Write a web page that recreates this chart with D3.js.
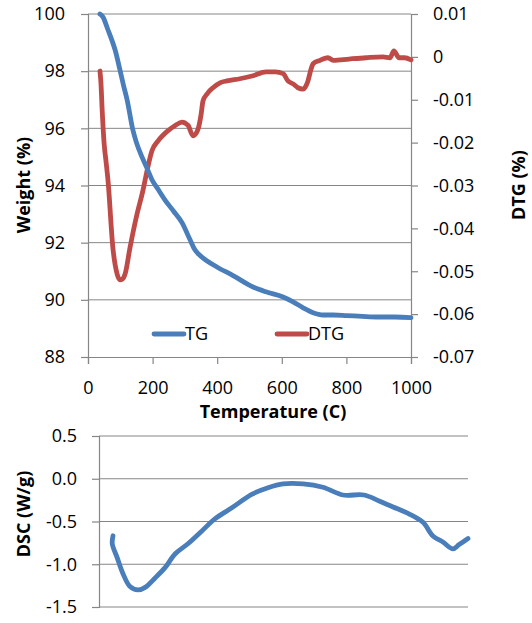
<!DOCTYPE html>
<html>
<head>
<meta charset="utf-8">
<script src="https://cdn.jsdelivr.net/npm/d3@7"></script>
<style>
  body { margin: 0; background: #fff; }
  svg text { font-family: "Open Sans", "Liberation Sans", sans-serif; fill: #000; }
</style>
</head>
<body>
<div id="chart"></div>
<script>
// TG curve (weight %)
const tgTemp = [37, 46, 62, 75, 84, 99, 110, 121, 139, 150, 167, 183, 198, 218, 238, 265, 291, 316, 331, 347, 370, 399, 449, 511, 551, 604, 635, 666, 697, 727, 760, 800, 850, 900, 950, 1000];
const tgWeight = [100, 99.9, 99.44, 99.05, 98.74, 98.04, 97.5, 97.0, 95.94, 95.5, 95.0, 94.6, 94.2, 93.85, 93.5, 93.1, 92.7, 92.1, 91.75, 91.55, 91.35, 91.15, 90.85, 90.45, 90.28, 90.1, 89.93, 89.72, 89.55, 89.47, 89.47, 89.45, 89.42, 89.4, 89.4, 89.38];

// DTG curve (%)
const dtgTemp = [37, 40, 44, 50, 56, 62, 77, 90, 99, 107, 115, 130, 152, 170, 183, 198, 217, 248, 270, 291, 310, 325, 340, 350, 356, 370, 387, 410, 430, 470, 511, 551, 580, 604, 619, 635, 650, 666, 681, 690, 697, 715, 743, 759, 808, 861, 913, 935, 947, 963, 980, 1000];
const dtgValue = [-0.0033, -0.006, -0.0126, -0.0203, -0.0245, -0.0289, -0.0445, -0.0506, -0.052, -0.0518, -0.0506, -0.0445, -0.0366, -0.0312, -0.0265, -0.0219, -0.0196, -0.0172, -0.016, -0.0152, -0.016, -0.0184, -0.017, -0.0135, -0.0103, -0.0085, -0.0072, -0.006, -0.0056, -0.0051, -0.0044, -0.0035, -0.0035, -0.0039, -0.0056, -0.0063, -0.0072, -0.0075, -0.0056, -0.003, -0.0016, -0.0009, -0.0002, -0.0008, -0.0005, -0.0002, 0, -0.0002, 0.0014, -0.0002, -0.0002, -0.0007];

// DSC curve (W/g)
const dscTemp = [38, 36, 49, 65, 84, 106, 125, 152, 179, 206, 241, 279, 314, 360, 415, 458, 499, 553, 607, 661, 718, 759, 797, 840, 878, 905, 932, 959, 976, 1000];
const dscValue = [-0.667, -0.76, -0.92, -1.11, -1.26, -1.30, -1.27, -1.16, -1.04, -0.88, -0.76, -0.61, -0.47, -0.34, -0.18, -0.105, -0.06, -0.06, -0.1, -0.19, -0.19, -0.26, -0.33, -0.41, -0.51, -0.67, -0.74, -0.82, -0.77, -0.7];

const tempTicks = [0, 200, 400, 600, 800, 1000];
const weightTicks = [88, 90, 92, 94, 96, 98, 100];
const dtgTicks = [-0.07, -0.06, -0.05, -0.04, -0.03, -0.02, -0.01, 0, 0.01];
const dscTicks = [-1.5, -1.0, -0.5, 0.0, 0.5];

const blue = "#4a7ebb";
const red = "#be4b48";
const grid = "#868686";

const width = 532, height = 623;

const svg = d3.select("#chart").append("svg")
  .attr("width", width)
  .attr("height", height);

// ---- top chart: TG / DTG ----
const x = d3.scaleLinear().domain([0, 1000]).range([88, 411]);
const yW = d3.scaleLinear().domain([88, 100]).range([357, 14]);
const yD = d3.scaleLinear().domain([-0.07, 0.01]).range([357, 14]);

const topG = svg.append("g");

topG.append("g")
  .selectAll("line")
  .data(weightTicks.slice(1))
  .enter().append("line")
  .attr("x1", 88).attr("x2", 411)
  .attr("y1", d => yW(d)).attr("y2", d => yW(d))
  .attr("stroke", grid).attr("stroke-width", 1);

const dtgFmt = d => Math.abs(d) < 1e-9 ? "0" : d3.format(".2f")(d);

const axL = topG.append("g").attr("transform", "translate(88,0)")
  .call(d3.axisLeft(yW).tickValues(weightTicks).tickSize(7));
const axR = topG.append("g").attr("transform", "translate(411,0)")
  .call(d3.axisRight(yD).tickValues(dtgTicks).tickSize(7).tickFormat(dtgFmt));
const axB = topG.append("g").attr("transform", "translate(0,357)")
  .call(d3.axisBottom(x).tickValues(tempTicks).tickSize(7).tickFormat(d3.format("d")));

[axL, axR, axB].forEach(a => {
  a.select(".domain").attr("stroke", grid).attr("stroke-width", 1.2);
  a.selectAll(".tick line").attr("stroke", grid).attr("stroke-width", 1.2);
  a.selectAll(".tick text").attr("font-size", 18).attr("fill", "#000")
    .style("font-family", "'Open Sans', sans-serif");
});
axR.selectAll(".tick text").attr("x", 22);
axL.selectAll(".tick text").attr("x", -23);
axB.selectAll(".tick text").attr("y", 24);

const lineTG = d3.line()
  .x((d, i) => x(tgTemp[i]))
  .y(d => yW(d))
  .curve(d3.curveMonotoneX);
const lineDTG = d3.line()
  .x((d, i) => x(dtgTemp[i]))
  .y(d => yD(d))
  .curve(d3.curveMonotoneX);

topG.append("path")
  .attr("d", lineDTG(dtgValue))
  .attr("fill", "none").attr("stroke", red)
  .attr("stroke-width", 4.8).attr("stroke-linejoin", "round").attr("stroke-linecap", "round");
topG.append("path")
  .attr("d", lineTG(tgWeight))
  .attr("fill", "none").attr("stroke", blue)
  .attr("stroke-width", 4.8).attr("stroke-linejoin", "round").attr("stroke-linecap", "round");

// legend
const legend = [{ name: "TG", color: blue, x: 154 }, { name: "DTG", color: red, x: 277 }];
legend.forEach(l => {
  topG.append("line")
    .attr("x1", l.x).attr("x2", l.x + 30)
    .attr("y1", 334).attr("y2", 334)
    .attr("stroke", l.color).attr("stroke-width", 4.8).attr("stroke-linecap", "round");
  topG.append("text")
    .attr("x", l.x + 31).attr("y", 340)
    .attr("font-size", 18)
    .text(l.name);
});

// axis titles
topG.append("text")
  .attr("x", 273).attr("y", 418)
  .attr("text-anchor", "middle")
  .attr("font-size", 18).attr("font-weight", "bold")
  .text("Temperature (C)");
topG.append("text")
  .attr("transform", "translate(30,185) rotate(-90)")
  .attr("text-anchor", "middle")
  .attr("font-size", 18).attr("font-weight", "bold")
  .text("Weight (%)");
topG.append("text")
  .attr("transform", "translate(525,185) rotate(-90)")
  .attr("text-anchor", "middle")
  .attr("font-size", 18).attr("font-weight", "bold")
  .text("DTG (%)");

// ---- bottom chart: DSC ----
const x2 = d3.scaleLinear().domain([0, 1000]).range([99, 468]);
const yS = d3.scaleLinear().domain([-1.5, 0.5]).range([607, 436]);

const botG = svg.append("g");

botG.append("g")
  .selectAll("line")
  .data(dscTicks)
  .enter().append("line")
  .attr("x1", 99).attr("x2", 468)
  .attr("y1", d => yS(d)).attr("y2", d => yS(d))
  .attr("stroke", grid).attr("stroke-width", 1.2);

const axS = botG.append("g").attr("transform", "translate(99,0)")
  .call(d3.axisLeft(yS).tickValues(dscTicks).tickSize(7).tickFormat(d3.format(".1f")));
axS.select(".domain").attr("stroke", grid).attr("stroke-width", 1.2);
axS.selectAll(".tick line").attr("stroke", grid).attr("stroke-width", 1.2);
axS.selectAll(".tick text").attr("font-size", 18).attr("fill", "#000")
  .attr("x", -22)
  .style("font-family", "'Open Sans', sans-serif");

const lineDSC = d3.line()
  .x((d, i) => x2(dscTemp[i]))
  .y(d => yS(d))
  .curve(d3.curveCatmullRom);

botG.append("path")
  .attr("d", lineDSC(dscValue))
  .attr("fill", "none").attr("stroke", blue)
  .attr("stroke-width", 4.8).attr("stroke-linejoin", "round").attr("stroke-linecap", "round");

botG.append("text")
  .attr("transform", "translate(30,514) rotate(-90)")
  .attr("text-anchor", "middle")
  .attr("font-size", 18).attr("font-weight", "bold")
  .text("DSC (W/g)");

// hyphen instead of unicode minus, like the original
svg.selectAll(".tick text").each(function() {
  const t = d3.select(this);
  t.text(t.text().replace("\u2212", "-"));
});
</script>
</body>
</html>
